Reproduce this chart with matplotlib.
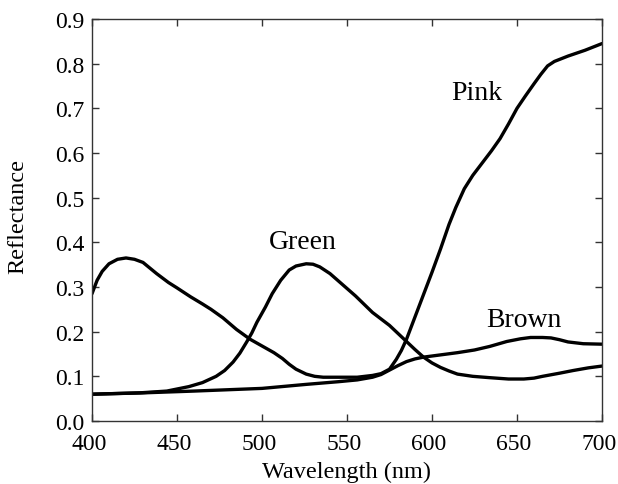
import matplotlib
matplotlib.use("Agg")
import matplotlib.pyplot as plt
from matplotlib.transforms import ScaledTranslation

plt.rcParams['font.family'] = ['Liberation Serif', 'DejaVu Serif']

# Pink (peak in blue, rises in red)
pink_x = [400, 403, 406, 410, 415, 420, 425, 430, 438, 445, 450, 458, 465, 470, 477, 485, 493, 500,
          507, 512, 516, 520, 526, 531, 536, 545, 556, 565, 570, 575, 579, 582, 585, 588, 591, 595,
          600, 605, 610, 614, 619, 624, 629, 635, 640, 645, 650, 655, 660, 664, 668, 672, 680, 690, 700]
pink_y = [0.285, 0.315, 0.335, 0.352, 0.362, 0.365, 0.362, 0.355, 0.330, 0.310, 0.298, 0.278, 0.262,
          0.250, 0.231, 0.205, 0.183, 0.168, 0.153, 0.140, 0.127, 0.116, 0.105, 0.100, 0.098, 0.098,
          0.098, 0.102, 0.106, 0.116, 0.138, 0.158, 0.183, 0.213, 0.243, 0.283, 0.333, 0.385, 0.440,
          0.478, 0.520, 0.550, 0.575, 0.605, 0.632, 0.665, 0.700, 0.728, 0.755, 0.776, 0.795, 0.805,
          0.817, 0.830, 0.845]

green_x = [400, 428, 444, 457, 465, 473, 478, 483, 487, 491, 494, 497, 502, 506, 511, 516, 520, 526,
           530, 534, 540, 546, 555, 565, 575, 585, 590, 595, 600, 605, 610, 615, 624, 634, 645, 654,
           660, 665, 675, 683, 692, 700]
green_y = [0.060, 0.063, 0.067, 0.077, 0.086, 0.100, 0.113, 0.132, 0.152, 0.177, 0.197, 0.221, 0.255,
           0.285, 0.315, 0.338, 0.347, 0.352, 0.351, 0.345, 0.330, 0.310, 0.280, 0.243, 0.214, 0.178,
           0.160, 0.143, 0.130, 0.120, 0.112, 0.105, 0.100, 0.097, 0.094, 0.094, 0.096, 0.100, 0.107,
           0.113, 0.119, 0.123]

brown_x = [400, 430, 460, 500, 526, 545, 556, 565, 570, 575, 580, 585, 590, 595, 605, 615, 625, 634,
           644, 652, 658, 665, 670, 675, 680, 689, 700]
brown_y = [0.060, 0.063, 0.067, 0.073, 0.082, 0.088, 0.092, 0.098, 0.104, 0.114, 0.124, 0.133, 0.139,
           0.143, 0.148, 0.153, 0.159, 0.167, 0.178, 0.184, 0.187, 0.187, 0.186, 0.182, 0.177, 0.173,
           0.172]

x_ticks = [400, 450, 500, 550, 600, 650, 700]
y_ticks = [0.0, 0.1, 0.2, 0.3, 0.4, 0.5, 0.6, 0.7, 0.8, 0.9]

labels = ["Pink", "Green", "Brown"]
label_pos_x = [626.5, 524, 654]
label_pos_y = [0.736, 0.402, 0.228]

fig = plt.figure(figsize=(6.18, 4.85), dpi=100)
ax = fig.add_axes([92/618, 1 - 422/485, (602-92)/618, (422-20)/485])

lw = 2.4
for xs, ys in [(pink_x, pink_y), (green_x, green_y), (brown_x, brown_y)]:
    ax.plot(xs, ys, color='black', lw=lw, solid_joinstyle='round', solid_capstyle='round')

for t, lx, ly in zip(labels, label_pos_x, label_pos_y):
    ax.text(lx, ly, t, fontsize=20, ha='center', va='center')

ax.set_xlim(400, 700)
ax.set_ylim(0, 0.9)
ax.set_xticks(x_ticks)
ax.set_yticks(y_ticks)
ax.set_yticklabels([f"{v:.1f}" for v in y_ticks])
ax.tick_params(direction='in', top=True, right=True, length=5, width=1,
               labelsize=17, colors='#333333', labelcolor='black')
ax.tick_params(axis='x', pad=8.5)
ax.tick_params(axis='y', pad=5.5)
shift = ScaledTranslation(-3/100, 0, fig.dpi_scale_trans)
for lab in ax.get_xticklabels():
    lab.set_transform(lab.get_transform() + shift)
for s in ax.spines.values():
    s.set_color('#333333')
    s.set_linewidth(1)

ax.set_xlabel("Wavelength (nm)", fontsize=17.5, va='center')
ax.xaxis.set_label_coords(0.5, (422 - 472) / 402)
ax.set_ylabel("Reflectance", fontsize=17.5, va='center')
ax.yaxis.set_label_coords((18 - 92) / 510, (422 - 216) / 402)

fig.savefig("out.png", dpi=100)
